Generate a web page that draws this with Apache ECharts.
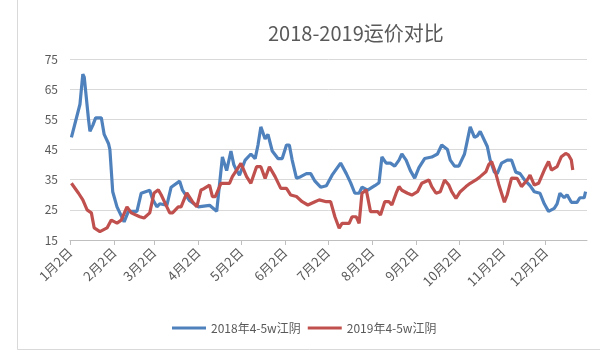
<!DOCTYPE html>
<html><head><meta charset="utf-8">
<script src="https://cdn.jsdelivr.net/npm/echarts@6/dist/echarts.min.js"></script>
<style>html,body{margin:0;padding:0;background:#fff}#c{width:600px;height:358px}</style>
</head><body><div id="c"></div>
<script>
// tick labels shown on the x axis
const tickLabels = ['1月2日','2月2日','3月2日','4月2日','5月2日','6月2日','7月2日','8月2日','9月2日','10月2日','11月2日','12月2日'];
const yTicks = [15, 25, 35, 45, 55, 65, 75];
const seriesNames = ['2018年4-5w江阴', '2019年4-5w江阴'];

// daily categories from 1月2日 to 12月31日
const categories = [];
for (let d = new Date(Date.UTC(2018, 0, 2)); d.getUTCFullYear() === 2018; d.setUTCDate(d.getUTCDate() + 1)) {
  categories.push((d.getUTCMonth() + 1) + '月' + d.getUTCDate() + '日');
}

// [day index from 1月2日, value]
const values2018 = [[1,49],[7,60],[9,70],[10,69],[13,55],[14,51],[16,53],[18,55.5],[22,55.5],[24,50],[27,47],[28,45],[30,31],[33,26],[38,21],[41,24.5],[47,24.5],[50,30.5],[53,31],[56,31.5],[58,28.5],[61,26],[63,27],[68,26.5],[71,32.5],[77,34.5],[79,31.5],[84,28],[90,26],[98,26.5],[103,24.5],[107,42.5],[110,38],[113,44.5],[115,40],[117,38],[119,36.5],[123,41.5],[127,43.5],[130,42],[132,46.5],[134,52.5],[137,48.5],[139,50],[142,44.5],[146,42],[149,42],[152,46.5],[154,46.5],[156,41.5],[159,35.5],[162,36],[166,37],[169,37],[172,34.5],[176,32.5],[180,33],[184,36.5],[190,40.5],[194,37],[197,34],[200,30.5],[203,30.5],[205,32.5],[209,31.5],[214,33],[217,34],[219,42.5],[222,40.5],[225,40.5],[228,39.5],[231,41.5],[233,43.5],[236,41.5],[239,38],[242,35.5],[245,39],[249,42],[254,42.5],[258,43.5],[261,46.5],[265,45],[267,41.5],[270,39.5],[273,39.5],[277,43.5],[279,48],[281,52.5],[284,49],[286,49.5],[288,51],[291,48],[293,46],[295,41.5],[298,37.5],[300,37],[303,40.5],[307,41.5],[310,41.5],[313,37.5],[316,37],[319,35],[323,33],[326,31],[330,30.5],[333,27],[336,24.5],[340,25.5],[342,27],[344,30.5],[347,29],[349,30],[352,27.5],[356,27.5],[358,29],[361,29],[362,31]];

const values2019 = [[1,33.8],[6,30.5],[9,28.3],[12,25],[15,24],[17,19],[21,17.8],[26,19],[29,21.6],[33,20.6],[36,21.6],[40,26],[43,24],[49,22.7],[52,22.3],[56,24],[59,30.6],[62,31.6],[64,30],[68,26],[70,24],[72,24],[76,26],[78,26],[82,30.6],[86,27.7],[89,26],[92,31.6],[94,32],[98,33.2],[100,29.4],[102,29.4],[106,33.8],[110,33.8],[112,33.8],[114,36],[117,38.2],[120,40.4],[124,36],[127,33.8],[131,39.3],[134,39.3],[137,35.4],[140,39.3],[144,36],[148,32.1],[152,32.1],[155,29.9],[159,29.4],[163,27.7],[167,26.6],[172,27.7],[175,28.3],[176,28.8],[180,27.7],[183,27.7],[186,22.7],[189,18.9],[191,20.5],[196,20.5],[198,22.7],[201,22.7],[203,20.5],[205,30.5],[208,31.6],[211,24.4],[216,24.4],[218,23.3],[221,27.7],[224,27.7],[226,26.6],[229,30.5],[231,32.7],[233,31.5],[237,30.5],[240,29.9],[244,31],[247,33.8],[252,34.9],[254,32.7],[257,30.5],[260,31],[263,34.9],[266,33.2],[268,31],[271,28.8],[274,31],[278,32.7],[281,33.8],[285,34.9],[288,36],[292,37.6],[294,40],[296,41],[299,37],[301,33.5],[305,27.5],[307,30],[310,35.5],[314,35.4],[317,32.7],[321,34.9],[323,36.5],[326,33.2],[329,33.8],[333,38.2],[336,41],[338,38.2],[342,39.3],[345,42.6],[348,43.7],[350,43.2],[352,41.5],[353,38.2]];

const tickSet = new Set(tickLabels);
const chart = echarts.init(document.getElementById('c'), null, {renderer: 'canvas'});
const font = '"Noto Sans CJK SC", "Noto Sans", sans-serif';
chart.setOption({
  animation: false,
  backgroundColor: '#fff',
  textStyle: {fontFamily: font},
  title: {
    text: '2018-2019运价对比',
    left: 263, top: 18,
    textStyle: {fontSize: 20, fontWeight: 'normal', color: '#595959', fontFamily: font}
  },
  graphic: [{
    type: 'rect', left: 15, top: -5,
    shape: {width: 600, height: 352},
    style: {fill: 'none', stroke: '#d9d9d9', lineWidth: 1}
  }],
  legend: {
    left: 167, top: 317,
    itemWidth: 34, itemHeight: 3, itemGap: 7,
    icon: 'rect',
    textStyle: {fontSize: 12, color: '#595959', fontFamily: font},
    data: seriesNames
  },
  grid: {left: 70, right: 13, top: 59, bottom: 118},
  xAxis: {
    type: 'category',
    data: categories,
    boundaryGap: false,
    axisLine: {lineStyle: {color: '#bfbfbf'}},
    axisTick: {show: true, length: 5, lineStyle: {color: '#bfbfbf'}, interval: (i, v) => tickSet.has(v)},
    axisLabel: {rotate: 45, fontSize: 13, color: '#595959', margin: 10, interval: (i, v) => tickSet.has(v)},
    splitLine: {show: false}
  },
  yAxis: {
    type: 'value',
    min: yTicks[0], max: yTicks[yTicks.length - 1], interval: 10,
    axisLine: {show: false},
    axisTick: {show: false},
    axisLabel: {fontSize: 12, color: '#595959', margin: 12},
    splitLine: {lineStyle: {color: '#d9d9d9'}}
  },
  series: [
    {name: seriesNames[0], type: 'line', data: values2018, showSymbol: false, symbol: 'none',
     lineStyle: {width: 3.2, color: '#4F81BD'}, itemStyle: {color: '#4F81BD'}},
    {name: seriesNames[1], type: 'line', data: values2019, showSymbol: false, symbol: 'none',
     lineStyle: {width: 3.2, color: '#C0504D'}, itemStyle: {color: '#C0504D'}}
  ]
});
</script></body></html>
